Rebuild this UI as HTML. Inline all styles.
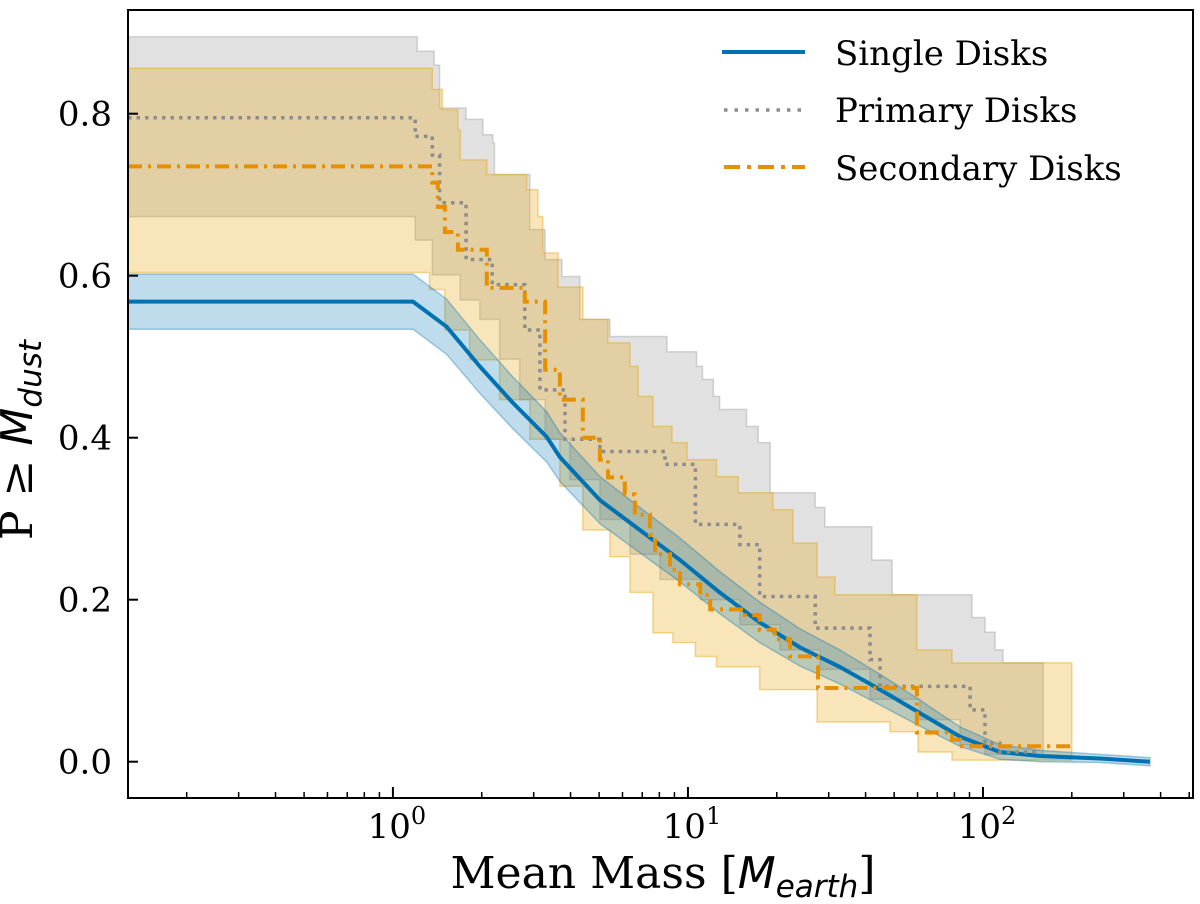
<!DOCTYPE html>
<html><head><meta charset="utf-8"><style>
html,body{margin:0;padding:0;background:#fff;}
svg{display:block;}
text{font-family:"DejaVu Serif","Liberation Serif",serif;fill:#000;}
.m{font-family:"DejaVu Sans","Liberation Sans",sans-serif;font-style:italic;}
</style></head><body>
<svg id="chart" width="1200" height="904" viewBox="0 0 1200 904">
<g id="bands"></g><g id="lines"></g><g id="axes"></g>
</svg>
<script>
// ---- data ----
const singleMass=[1.17,1.52,1.97,2.55,3.32,3.68,5.03,6.87,9.4,12.8,17.5,24.0,32.7,44.8,61.1,83.6,114,156,249,368];
const singleP=[0.568,0.537,0.488,0.443,0.401,0.376,0.323,0.286,0.249,0.209,0.172,0.141,0.117,0.089,0.060,0.031,0.012,0.007,0.004,0.0];
const singleErr=[0.034,0.034,0.033,0.032,0.031,0.03,0.029,0.028,0.027,0.026,0.025,0.023,0.021,0.019,0.016,0.012,0.009,0.007,0.005,0.005];

const primStart=0.795;
const primMass=[1.19,1.36,1.44,1.77,2.17,2.80,3.15,3.83,5.03,8.36,10.6,15.0,17.5,27.0,41.4,44.8,90.4,101.6,114];
const primP=[0.772,0.749,0.690,0.620,0.589,0.533,0.459,0.398,0.383,0.367,0.293,0.268,0.204,0.165,0.126,0.093,0.064,0.023,0.012];
const primEnd=156;
const primUpStart=0.895;
const primUpMass=[1.21,1.38,1.44,1.77,2.02,2.18,2.21,2.91,3.28,3.74,4.30,5.44,8.49,10.7,11.2,12.2,12.8,15.8,17.3,19.0,27.0,29.1,42.0,49.2,91.8,101.6,109.9,116.9];
const primUpP=[0.877,0.860,0.807,0.793,0.774,0.764,0.725,0.657,0.620,0.599,0.546,0.525,0.506,0.488,0.472,0.451,0.435,0.414,0.394,0.332,0.314,0.290,0.249,0.206,0.178,0.160,0.138,0.122];
const primLoStart=0.673;
const primLoMass=[1.19,1.36,1.69,1.97,2.30,2.69,3.28,3.98,5.03,6.36,8.04,11.0,15.0,20.5,28.0,41.4,61.1,83.6,101.6];
const primLoP=[0.644,0.601,0.570,0.546,0.497,0.447,0.398,0.348,0.299,0.256,0.225,0.200,0.169,0.138,0.114,0.077,0.052,0.021,0.009];
const primBandEnd=160;

const secStart=0.735;
const secMass=[1.36,1.42,1.50,1.66,2.08,2.80,3.28,3.68,4.40,5.03,5.36,6.11,6.61,7.43,7.73,8.69,9.40,11.0,11.9,15.6,17.5,19.7,22.2,27.6,59.7,78.5,83.6];
const secP=[0.715,0.685,0.654,0.632,0.585,0.568,0.484,0.447,0.400,0.373,0.351,0.330,0.305,0.280,0.256,0.237,0.219,0.206,0.188,0.181,0.163,0.151,0.130,0.091,0.036,0.027,0.019];
const secEnd=200;
const secUpStart=0.856;
const secUpMass=[1.36,1.47,1.66,1.69,2.08,2.84,3.10,3.22,3.63,4.40,5.36,6.36,6.78,7.61,8.83,9.93,12.5,14.8,19.4,22.7,27.4,31.5,59.7,78.5];
const secUpP=[0.830,0.805,0.780,0.743,0.725,0.706,0.673,0.628,0.586,0.546,0.517,0.488,0.451,0.414,0.394,0.373,0.352,0.332,0.311,0.270,0.228,0.206,0.138,0.122];
const secLoStart=0.604;
const secLoMass=[1.33,1.50,1.82,2.30,2.91,3.68,4.40,5.44,6.36,7.61,8.89,10.6,12.5,17.5,27.4,48.4,60.2,78.5];
const secLoP=[0.583,0.533,0.496,0.447,0.398,0.340,0.286,0.253,0.209,0.159,0.147,0.130,0.117,0.089,0.049,0.037,0.012,0.002];

const yTicks=[0.0,0.2,0.4,0.6,0.8];
const yTickLabels=["0.0","0.2","0.4","0.6","0.8"];
const xMajor=[1,10,100];
const xMajorExp=["0","1","2"];

// ---- scales ----
const X0=128,X1=1193,Y0=10,Y1=798;
const xMin=0.1265, xMax=515;
const sx=m=>X0+(Math.log10(m)-Math.log10(xMin))/(Math.log10(xMax)-Math.log10(xMin))*(X1-X0);
const sy=p=>761.7-p*810;
const NS="http://www.w3.org/2000/svg";
function mk(tag,attrs,parent){const e=document.createElementNS(NS,tag);for(const k in attrs)e.setAttribute(k,attrs[k]);parent.appendChild(e);return e;}

function stepPts(start,ms,ps,end){
  const pts=[[sx(xMin),sy(start)]];let cur=start;
  for(let i=0;i<ms.length;i++){pts.push([sx(ms[i]),sy(cur)]);cur=ps[i];pts.push([sx(ms[i]),sy(cur)]);}
  pts.push([sx(end),sy(cur)]);return pts;
}
const fmt=pts=>pts.map(p=>p[0].toFixed(1)+","+p[1].toFixed(1)).join(" ");
const bands=document.getElementById('bands'),lines=document.getElementById('lines'),axes=document.getElementById('axes');

function band(up,lo,fill,stroke,name){
  const pts=up.concat(lo.slice().reverse());
  const e=mk('polygon',{points:fmt(pts),fill:fill,stroke:stroke,'stroke-width':1.5},bands);
  
  
}
band(stepPts(primUpStart,primUpMass,primUpP,primBandEnd),stepPts(primLoStart,primLoMass,primLoP,primBandEnd),'rgba(128,128,128,0.24)','rgba(128,128,128,0.3)','primary-confidence-band');
band(stepPts(secUpStart,secUpMass,secUpP,secEnd),stepPts(secLoStart,secLoMass,secLoP,secEnd),'rgba(230,159,0,0.27)','rgba(230,159,0,0.4)','secondary-confidence-band');
const sUp=[[sx(xMin),sy(singleP[0]+singleErr[0])]],sLo=[[sx(xMin),sy(singleP[0]-singleErr[0])]],sLine=[[sx(xMin),sy(singleP[0])]];
for(let i=0;i<singleMass.length;i++){sUp.push([sx(singleMass[i]),sy(singleP[i]+singleErr[i])]);sLo.push([sx(singleMass[i]),sy(singleP[i]-singleErr[i])]);sLine.push([sx(singleMass[i]),sy(singleP[i])]);}
band(sUp,sLo,'rgba(0,114,178,0.25)','rgba(0,114,178,0.35)','single-confidence-band');

let e;
e=mk('polyline',{points:fmt(sLine),fill:'none',stroke:'#0072b2','stroke-width':4,'stroke-linejoin':'round'},lines);


e=mk('polyline',{points:fmt(stepPts(primStart,primMass,primP,primEnd)),fill:'none',stroke:'#8c8c8c','stroke-width':3.5,'stroke-dasharray':'3.5 5'},lines);


e=mk('polyline',{points:fmt(stepPts(secStart,secMass,secP,secEnd)),fill:'none',stroke:'#e69000','stroke-width':4,'stroke-dasharray':'14 6 3 6'},lines);



e=mk('rect',{x:X0,y:Y0,width:X1-X0,height:Y1-Y0,fill:'none',stroke:'#000','stroke-width':2},axes);


yTicks.forEach((v,i)=>{
  const y=sy(v);
  let t=mk('line',{x1:X0,x2:X0+10,y1:y,y2:y,stroke:'#000','stroke-width':2},axes);
  
  
  t=mk('text',{x:112,y:y+12,'text-anchor':'end','font-size':34},axes);t.textContent=yTickLabels[i];
  
  
});
for(let d=-1;d<=2;d++){for(let k=1;k<10;k++){const m=k*Math.pow(10,d);if(m<xMin||m>xMax)continue;
  const x=sx(m);const maj=k===1;
  const t=mk('line',{x1:x,x2:x,y1:Y1,y2:Y1-(maj?11:6),stroke:'#000','stroke-width':maj?2:1.5},axes);
  
  
}}
xMajor.forEach((m,i)=>{
  const t=mk('text',{x:sx(m)+4,y:838,'text-anchor':'middle','font-size':34},axes);
  t.innerHTML='10<tspan dy="-14" font-size="24">'+xMajorExp[i]+'</tspan>';
  
  
});
</script>
<svg style="position:absolute;left:0;top:0" width="1200" height="904">
<text x="663" y="888" text-anchor="middle" font-size="44">Mean Mass [<tspan class="m">M</tspan><tspan class="m" font-size="31" dy="9">earth</tspan><tspan dy="-9">]</tspan></text>
<text transform="translate(32,440) rotate(-90)" text-anchor="middle" font-size="44">P ≥ <tspan class="m">M</tspan><tspan class="m" font-size="31" dy="9">dust</tspan></text>
<g>
<line x1="722" x2="805" y1="52" y2="52" stroke="#0072b2" stroke-width="4"/>
<text x="835" y="65" font-size="34">Single Disks</text>
<line x1="724" x2="805" y1="110" y2="110" stroke="#8c8c8c" stroke-width="3.5" stroke-dasharray="3.5 7"/>
<text x="835" y="122" font-size="34">Primary Disks</text>
<line x1="724" x2="805" y1="167" y2="167" stroke="#e69000" stroke-width="4" stroke-dasharray="16 7 4 7"/>
<text x="835" y="180" font-size="34">Secondary Disks</text>
</g>
</svg>
</body></html>
